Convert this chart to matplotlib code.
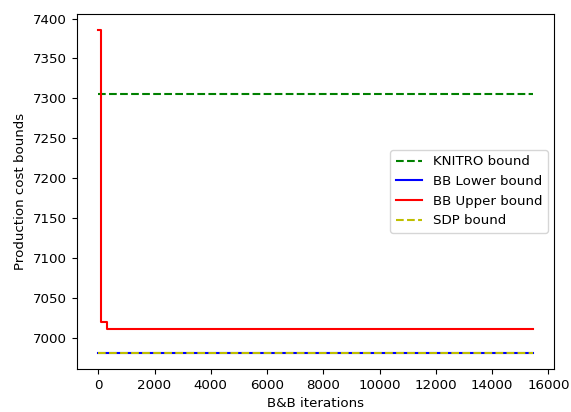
import matplotlib
matplotlib.use("Agg")
import matplotlib.pyplot as plt

plt.rcParams['font.size'] = 9.6

# Data
iters_span = [0, 15440]
knitro_bound = [7305.0, 7305.0]
bb_lower = [6980.7, 6980.7]
sdp_bound = [6980.7, 6980.7]
upper_iters = [0, 100, 300, 15440]
bb_upper = [7386.0, 7019.6, 7010.8, 7010.8]

fig = plt.figure(figsize=(5.71, 4.12), dpi=100)
ax = fig.add_axes([0.134, 0.104, 0.837, 0.863])

ax.plot(iters_span, knitro_bound, 'g--', label='KNITRO bound')
ax.plot(iters_span, bb_lower, 'b-', label='BB Lower bound')
ax.plot(upper_iters, bb_upper, 'r-', drawstyle='steps-post', label='BB Upper bound')
ax.plot(iters_span, sdp_bound, 'y--', label='SDP bound')

ax.set_xlabel('B&B iterations')
ax.set_ylabel('Production cost bounds')
ax.legend(loc='center right')

fig.savefig('out.png', dpi=100)
